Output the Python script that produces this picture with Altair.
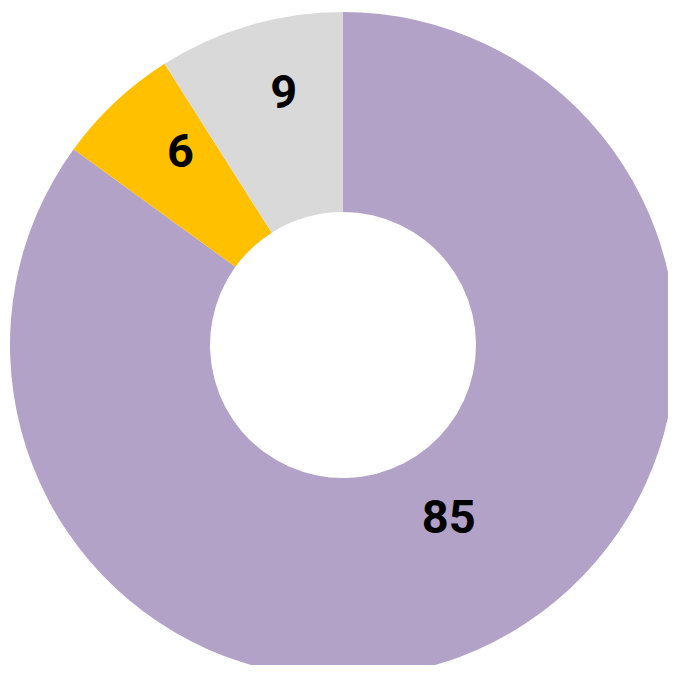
import altair as alt
import pandas as pd

categories = ["A", "B", "C"]
values = [85, 6, 9]
colors = ["#B3A2C8", "#FFC000", "#D9D9D9"]
order = [0, 1, 2]

df = pd.DataFrame({"cat": categories, "value": values, "ord": order})

W, H = 660, 657
cx, cy = 335, 337

theta_scale = alt.Scale(domain=[0, sum(values)])

arc = alt.Chart(df).mark_arc(innerRadius=133, outerRadius=333, stroke=None).encode(
    theta=alt.Theta("value:Q", stack=True, scale=theta_scale),
    order=alt.Order("ord:Q"),
    color=alt.Color("cat:N", scale=alt.Scale(domain=categories, range=colors), legend=None),
    x=alt.value(cx),
    y=alt.value(cy),
)

font = "Roboto"

labels = alt.Chart(df).transform_window(
    cum="sum(value)", sort=[alt.SortField("ord")], frame=[None, 0]
).transform_calculate(mid="datum.cum - datum.value / 2")

text_big = labels.transform_filter(alt.datum.value > 50).mark_text(
    radius=200, dx=15, dy=-4, fontSize=47, fontWeight="bold", font=font, color="black"
).encode(
    theta=alt.Theta("mid:Q", stack=False, scale=theta_scale),
    text="value:Q", x=alt.value(cx), y=alt.value(cy),
)

text_small = labels.transform_filter(alt.datum.value <= 50).mark_text(
    radius=255, dx=12, dy=-6, fontSize=47, fontWeight="bold", font=font, color="black"
).encode(
    theta=alt.Theta("mid:Q", stack=False, scale=theta_scale),
    text="value:Q", x=alt.value(cx), y=alt.value(cy),
)

chart = alt.layer(arc, text_big, text_small).properties(
    width=W, height=H, padding=0, autosize=alt.AutoSizeParams(type="none"),
    background="white",
).configure_view(strokeWidth=0)

chart.save("out.html", embed_options={"renderer": "svg", "actions": False})
